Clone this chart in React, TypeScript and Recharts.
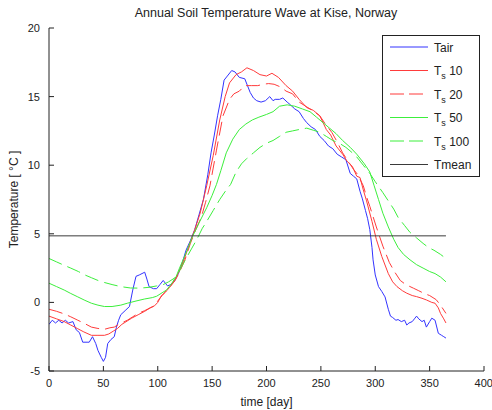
import React from 'react';
import { LineChart, Line, XAxis, YAxis } from 'recharts';

// Daily soil / air temperature at Kise, Norway
const tairDays = [0, 3, 6, 9, 12, 15, 18, 22, 25, 28, 31, 35, 37, 40, 43, 45, 48, 50, 52, 54, 57, 60, 62, 64, 66, 70, 74, 77, 80, 83, 88, 90, 92, 96, 99, 102, 105, 109, 112, 115, 119, 123, 126, 130, 134, 138, 142, 146, 149, 152, 155, 158, 161, 164, 168, 171, 175, 180, 185, 188, 191, 195, 199, 203, 206, 208, 212, 215, 219, 222, 226, 230, 234, 237, 241, 245, 249, 253, 257, 261, 265, 269, 273, 277, 280, 283, 286, 288, 291, 293, 295, 297, 298, 300, 303, 306, 309, 312, 314, 316, 319, 321, 324, 327, 329, 331, 334, 336, 338, 340, 343, 345, 347, 350, 352, 355, 358, 361, 363, 365];
const tairTemps = [-1.6, -1.3, -1.5, -1.3, -1.5, -1.3, -1.5, -1.4, -2.0, -2.2, -2.9, -2.9, -2.9, -2.5, -3.0, -3.5, -4.0, -4.3, -4.0, -3.0, -2.7, -2.5, -1.8, -1.3, -0.9, -0.6, -0.3, 0.9, 1.9, 2.0, 2.2, 1.7, 1.15, 1.0, 1.0, 1.3, 1.6, 1.2, 1.3, 1.5, 2.1, 3.0, 3.8, 4.5, 5.3, 6.4, 7.5, 9.3, 10.9, 12.2, 13.6, 14.8, 16.2, 16.5, 16.9, 16.8, 16.4, 16.3, 15.3, 14.9, 14.7, 14.6, 14.7, 15.0, 14.7, 14.8, 14.8, 14.9, 14.6, 14.4, 14.1, 13.9, 13.4, 13.1, 12.8, 12.6, 12.1, 11.8, 11.4, 11.2, 10.8, 10.6, 10.4, 9.4, 9.2, 9.0, 8.1, 7.6, 6.7, 6.1, 5.3, 4.0, 3.1, 2.0, 1.15, 0.8, 0.4, -0.5, -1.0, -1.1, -1.3, -1.25, -1.4, -1.3, -1.65, -1.5, -1.4, -1.2, -1.0, -1.2, -1.4, -1.3, -1.8, -1.4, -1.15, -1.3, -2.25, -2.4, -2.5, -2.6];

const ts10Days = [0, 7, 14, 20, 26, 32, 39, 45, 51, 55, 59, 63, 67, 72, 76, 82, 88, 93, 97, 100, 103, 107, 111, 116, 120, 125, 129, 134, 139, 145, 151, 157, 162, 166, 172, 177, 182, 188, 194, 200, 205, 211, 218, 224, 230, 237, 243, 249, 255, 259, 264, 270, 274, 279, 283, 286, 289, 292, 297, 301, 306, 312, 316, 320, 325, 329, 334, 338, 343, 347, 352, 355, 358, 360, 363, 365];
const ts10Temps = [-1.0, -1.2, -1.4, -1.65, -1.9, -2.15, -2.4, -2.4, -2.4, -2.3, -2.1, -1.9, -1.6, -1.35, -1.15, -0.9, -0.65, -0.4, -0.25, 0.0, 0.45, 0.75, 1.1, 1.7, 2.3, 3.3, 4.2, 5.3, 6.5, 8.5, 10.7, 13.3, 15.0, 16.0, 16.6, 16.8, 17.1, 16.9, 16.6, 16.5, 16.7, 16.4, 15.8, 15.4, 14.8, 14.2, 14.0, 13.6, 12.6, 12.2, 11.4, 10.8, 10.3, 9.9, 9.2, 9.1, 8.2, 7.4, 5.9, 4.6, 3.35, 2.1, 1.5, 1.15, 0.85, 0.67, 0.5, 0.42, 0.3, 0.18, 0.0, -0.06, -0.4, -0.8, -1.2, -1.5];

const ts20Days = [0, 7, 14, 20, 26, 33, 39, 45, 51, 56, 60, 64, 68, 72, 77, 82, 88, 93, 97, 100, 104, 108, 112, 116, 120, 125, 130, 135, 140, 144, 148, 154, 160, 166, 170, 175, 180, 186, 192, 197, 202, 207, 213, 218, 224, 230, 236, 242, 249, 255, 260, 265, 270, 275, 280, 284, 289, 292, 295, 301, 307, 313, 318, 323, 328, 335, 340, 345, 350, 356, 360, 365];
const ts20Temps = [-0.5, -0.65, -0.84, -1.05, -1.28, -1.55, -1.8, -1.9, -1.96, -1.85, -1.8, -1.6, -1.45, -1.3, -1.05, -0.8, -0.6, -0.4, -0.25, 0.1, 0.5, 0.85, 1.2, 1.6, 2.2, 3.1, 4.3, 5.3, 6.2, 7.3, 8.5, 11.1, 13.6, 14.8, 15.2, 15.4, 15.8, 15.8, 15.8, 15.9, 15.95, 15.9, 15.7, 15.4, 15.2, 14.6, 14.3, 14.0, 13.6, 12.9, 12.4, 11.7, 10.9, 10.3, 9.7, 9.3, 8.5, 7.7, 7.0, 5.5, 4.1, 2.9, 2.2, 1.6, 1.3, 1.04, 0.85, 0.65, 0.5, 0.2, -0.2, -0.8];

const ts50Days = [0, 7, 14, 20, 26, 33, 39, 45, 51, 58, 66, 72, 80, 88, 95, 99, 104, 108, 113, 117, 120, 126, 132, 138, 145, 150, 154, 158, 163, 169, 175, 181, 187, 193, 200, 206, 212, 219, 226, 233, 240, 246, 252, 258, 264, 270, 277, 283, 290, 295, 299, 303, 307, 312, 317, 321, 326, 332, 338, 344, 350, 355, 360, 365];
const ts50Temps = [1.4, 1.15, 0.9, 0.65, 0.42, 0.15, -0.06, -0.2, -0.3, -0.3, -0.2, -0.06, 0.1, 0.25, 0.35, 0.45, 0.7, 0.9, 1.4, 1.9, 2.5, 3.6, 4.8, 5.8, 6.9, 7.8, 8.6, 9.6, 10.9, 11.9, 12.6, 13.0, 13.3, 13.5, 13.7, 13.9, 14.3, 14.4, 14.3, 14.1, 13.9, 13.5, 13.1, 12.7, 12.3, 11.8, 11.3, 10.8, 10.1, 9.5, 8.5, 7.5, 6.5, 5.5, 4.6, 4.0, 3.5, 3.1, 2.75, 2.5, 2.25, 2.1, 1.85, 1.5];

const ts100Days = [0, 7, 14, 20, 27, 33, 39, 45, 51, 58, 66, 75, 84, 92, 99, 105, 110, 115, 120, 126, 131, 136, 141, 145, 151, 157, 163, 167, 172, 177, 182, 188, 194, 200, 206, 212, 218, 224, 230, 237, 243, 249, 255, 261, 267, 273, 279, 283, 289, 295, 300, 307, 312, 317, 321, 327, 332, 338, 344, 349, 354, 360, 365];
const ts100Temps = [3.2, 2.95, 2.7, 2.5, 2.25, 2.0, 1.8, 1.6, 1.45, 1.3, 1.15, 1.05, 1.04, 1.1, 1.2, 1.3, 1.5, 1.75, 2.3, 3.2, 3.9, 4.6, 5.4, 5.9, 6.7, 7.5, 8.2, 8.6, 9.5, 10.1, 10.5, 10.9, 11.3, 11.6, 11.8, 12.1, 12.4, 12.5, 12.6, 12.7, 12.55, 12.4, 12.1, 11.8, 11.6, 11.3, 10.9, 10.6, 10.0, 9.4, 8.8, 8.0, 7.4, 6.8, 6.2, 5.6, 5.1, 4.7, 4.3, 4.0, 3.8, 3.5, 3.2];

const tmeanDays = [0, 365];
const tmeanTemps = [4.85, 4.85];

const xTicks = [0, 50, 100, 150, 200, 250, 300, 350, 400];
const yTicks = [-5, 0, 5, 10, 15, 20];

const BLUE = '#3333ff';
const RED = '#ff3b3b';
const GREEN = '#3cef3c';
const DARK = '#3a3a3a';
const FONT = '"Liberation Sans", Arial, sans-serif';

const toPoints = (days: number[], temps: number[]) => days.map((d, i) => ({ d, v: temps[i] }));

const series = [
  { name: 'Tair', data: toPoints(tairDays, tairTemps), color: BLUE, dash: undefined, sub: '' },
  { name: 'T', data: toPoints(ts10Days, ts10Temps), color: RED, dash: undefined, sub: '10' },
  { name: 'T', data: toPoints(ts20Days, ts20Temps), color: RED, dash: '14 6', sub: '20' },
  { name: 'T', data: toPoints(ts50Days, ts50Temps), color: GREEN, dash: undefined, sub: '50' },
  { name: 'T', data: toPoints(ts100Days, ts100Temps), color: GREEN, dash: '14 6', sub: '100' },
  { name: 'Tmean', data: toPoints(tmeanDays, tmeanTemps), color: DARK, dash: undefined, sub: '' },
];

const tickStyle = { fontSize: 11, fill: '#222', fontFamily: FONT };
const noLabel = () => <g />;

const LegendBox = () => (
  <svg width={98} height={142} style={{ position: 'absolute', left: 382, top: 35 }}>
    <rect x={0.5} y={0.5} width={97} height={141} fill="#fff" stroke="#222" />
    {series.map((s, i) => {
      const y = 12 + i * 23.5;
      return (
        <g key={i}>
          <line x1={8} x2={46} y1={y} y2={y} stroke={s.color} strokeDasharray={s.dash ? '14 5' : undefined} />
          <text x={52} y={y + 4.5} fontSize={12} fontFamily={FONT} fill="#222">
            {s.sub ? (
              <>
                T<tspan dy={4} fontSize={9}>s</tspan>
                <tspan dy={-4}> {s.sub}</tspan>
              </>
            ) : (
              s.name
            )}
          </text>
        </g>
      );
    })}
  </svg>
);

export default function App() {
  return (
    <div style={{ position: 'absolute', left: 0, top: 0, width: 492, height: 410, background: '#fff' }}>
      <div style={{ position: 'absolute', left: 0, width: 492, top: 6, textAlign: 'center', paddingLeft: 40, boxSizing: 'border-box', fontFamily: FONT, fontSize: 12.5, color: '#222' }}>
        Annual Soil Temperature Wave at Kise, Norway
      </div>
      <LineChart width={492} height={410} margin={{ top: 28, right: 8, bottom: 0, left: 0 }}>
        <XAxis
          dataKey="d"
          type="number"
          domain={[0, 400]}
          ticks={xTicks}
          allowDataOverflow
          stroke="#222"
          tickSize={-5}
          tickMargin={13}
          height={39}
          tick={tickStyle}
          label={{ value: 'time [day]', position: 'insideBottom', offset: 4, style: { fontSize: 12, fill: '#222', fontFamily: FONT } }}
        />
        <XAxis xAxisId="top" orientation="top" type="number" domain={[0, 400]} ticks={xTicks} allowDataOverflow height={0} tickSize={-5} tick={noLabel} stroke="#222" />
        <YAxis
          type="number"
          domain={[-5, 20]}
          ticks={yTicks}
          allowDataOverflow
          width={49}
          stroke="#222"
          tickSize={-5}
          tickMargin={14}
          tick={tickStyle}
          label={{ value: 'Temperature [ °C ]', angle: -90, position: 'insideLeft', offset: 14, style: { fontSize: 12, fill: '#222', fontFamily: FONT, textAnchor: 'middle' } }}
        />
        <YAxis yAxisId="right" orientation="right" type="number" domain={[-5, 20]} ticks={yTicks} allowDataOverflow width={0} tickSize={-5} tick={noLabel} stroke="#222" />
        {series.map((s, i) => (
          <Line
            key={i}
            data={s.data}
            dataKey="v"
            type="linear"
            stroke={s.color}
            strokeWidth={1}
            strokeDasharray={s.dash}
            dot={false}
            activeDot={false}
            isAnimationActive={false}
          />
        ))}
      </LineChart>
      <LegendBox />
    </div>
  );
}
